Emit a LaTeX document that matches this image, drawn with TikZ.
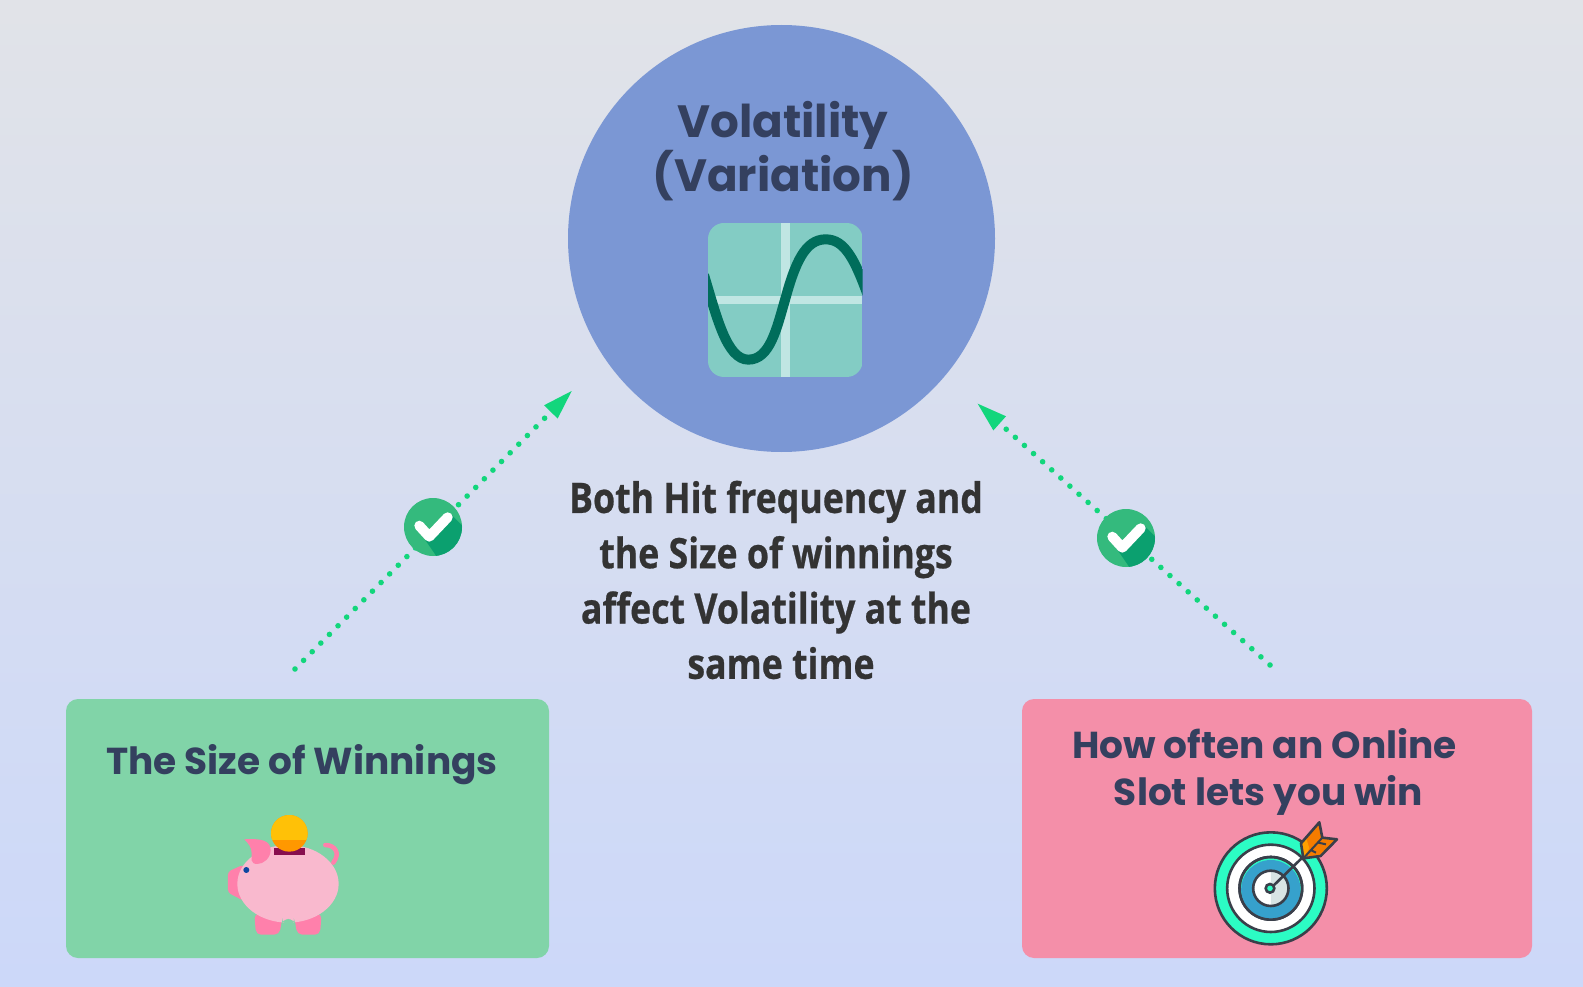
\documentclass[tikz,border=0pt]{standalone}
\usepackage{fontspec}
\usetikzlibrary{positioning,arrows.meta,calc}
\newfontfamily\headfont{Poppins}
\newfontfamily\bodyfont[FakeStretch=0.85,BoldFeatures={FakeBold=0.6}]{Open Sans}
\definecolor{bgtop}{HTML}{E1E3E8}
\definecolor{bgbottom}{HTML}{CCD8F9}
\definecolor{volblue}{HTML}{7B97D4}
\definecolor{headink}{HTML}{34405F}
\definecolor{bodyink}{HTML}{333333}
\definecolor{sizegreen}{HTML}{81D4A8}
\definecolor{oftenpink}{HTML}{F48FA9}
\definecolor{flowgreen}{HTML}{12D67C}
\definecolor{tickgreen}{HTML}{34BA7D}
\definecolor{tickdark}{HTML}{0BA06F}
\definecolor{chartbg}{HTML}{83CCC4}
\definecolor{chartbar}{HTML}{C0E6E3}
\definecolor{chartline}{HTML}{006D5B}
\definecolor{pigbody}{HTML}{F9B9CE}
\definecolor{pigdark}{HTML}{FF80AB}
\definecolor{pigeye}{HTML}{0D47A1}
\definecolor{pigslot}{HTML}{880E4F}
\definecolor{coinlight}{HTML}{FFC107}
\definecolor{coindark}{HTML}{FF9800}
\definecolor{ringteal}{HTML}{2CFCC4}
\definecolor{ringblue}{HTML}{36A1CC}
\definecolor{ringgrey}{HTML}{D8E4E4}
\definecolor{ringink}{HTML}{3A3F4A}
\definecolor{featherdark}{HTML}{F57C00}
\definecolor{featherlight}{HTML}{FFA000}
\tikzset{
  panel/.style ={draw=none, rounded corners=12pt, inner sep=0pt},
  head/.style  ={text=headink, align=center, font=\headfont\bfseries},
  body/.style  ={text=bodyink, align=center, font=\bodyfont\bfseries\fontsize{42}{55.3}\selectfont},
  fl/.style    ={flowgreen, line width=5.6pt, line cap=round, dash pattern=on 0pt off 12.2pt,
                 -{Triangle[length=29.5pt,width=19pt,line width=0pt]}},
  badge/.style ={circle, fill=tickgreen, minimum size=58pt, inner sep=0pt},
  ring/.style  ={draw=ringink, line width=2.6pt}
}
\newcommand{\tickmark}[1]{
  \begin{scope}
    \clip (#1) circle (29pt);
    \fill[tickdark] ($(#1)+(18.7,-12)$) -- ++(16,16) -- ++(0,30) -- ++(-28,0) -- ($(#1)+(-10,9.7)$) -- cycle;
  \end{scope}
  \draw[white, line width=10pt, line cap=round, line join=round]
    ($(#1)+(-13.7,-1.3)$) -- ($(#1)+(-3.7,9.7)$) -- ($(#1)+(14.7,-9.7)$);
}

\begin{document}
\begin{tikzpicture}[x=1pt,y=-1pt]
  \useasboundingbox (0,0) rectangle (1583,987);
  \shade[top color=bgtop, bottom color=bgbottom] (0,0) rectangle (1583,987);

  \node[circle, fill=volblue, minimum size=427pt, inner sep=0pt](vol) at (781.5,238.5){};
  \node[head, font=\headfont\bfseries\fontsize{45.2}{51.5}\selectfont](voltitle) at (783,151){Volatility\\(Variation)};

  % chart icon
  \begin{scope}[shift={(680,200)},x=.3333pt,y=-.3333pt]
    \clip[rounded corners=16pt] (84,69) rectangle (548,531);
    \fill[chartbg] (84,69) rectangle (548,531);
    \fill[chartbar] (303,69) rectangle (329,531);
    \fill[chartbar] (84,287) rectangle (548,313);
    \draw[chartline, line width=10pt] (72,225) .. controls (110,350) and (140,479) .. (205,479)
      .. controls (270,479) and (290,385) .. (315,300) .. controls (345,190) and (375,118) .. (437,118)
      .. controls (495,118) and (525,180) .. (565,290);
  \end{scope}

  \node[body](note) at (776,580){Both Hit frequency and\\the Size of winnings\\affect Volatility at the\\\hspace*{10pt}same time};

  \node[panel, fill=sizegreen, minimum width=483pt, minimum height=259pt](size) at (307.5,828.5){};
  \node[panel, fill=oftenpink, minimum width=510pt, minimum height=259pt](often) at (1277,828.5){};
  \node[head, font=\headfont\bfseries\fontsize{37.5}{47}\selectfont](sizetitle) at (302,765){The Size of Winnings};
  \node[head, font=\headfont\bfseries\fontsize{37.5}{47}\selectfont](oftentitle) at (1264.5,772){How often an Online\\\hspace*{8pt}Slot lets you win};

  % piggy bank
  \begin{scope}[shift={(200,790)},x=.3333pt,y=-.3333pt]
    \draw[pigdark, line width=4.5pt, line cap=round] (376,165) .. controls (405,165) and (422,190) .. (400,218);
    \fill[pigdark, rounded corners=3pt] (84,245) -- (130,224) -- (130,332) -- (84,308) -- cycle;
    \fill[pigdark, rounded corners=5pt] (163,370) -- (168,434) -- (238,434) -- (248,380) -- cycle;
    \fill[pigdark, rounded corners=5pt] (365,370) -- (360,434) -- (292,434) -- (282,380) -- cycle;
    \fill[pigbody] (264,281.5) ellipse [x radius=152, y radius=116.5];
    \fill[sizegreen, rounded corners=6pt] (245,402) -- (248,387) -- (282,387) -- (286,402) -- cycle;
    \fill[pigdark] (133,148) .. controls (180,145) and (212,150) .. (212,180) .. controls (212,205) and (190,222) .. (172,222)
      .. controls (150,222) and (155,205) .. (155,190) .. controls (155,172) and (145,160) .. (133,148) -- cycle;
    \fill[pigeye] (139,240) circle [radius=9];
    \fill[pigslot] (222,175) rectangle (315,194);
    \fill[coindark] (268,130) circle [radius=55];
    \begin{scope}
      \clip (213,75) rectangle (323,148);
      \fill[coinlight] (268,130) circle [radius=55];
    \end{scope}
  \end{scope}

  % target
  \begin{scope}[shift={(1190,800)},x=.3333pt,y=-.3333pt]
    \filldraw[ring, fill=ringteal] (242.5,265) circle [radius=168];
    \filldraw[ring, fill=white] (242.5,265) circle [radius=131];
    \filldraw[ring, fill=ringteal] (242.5,265) circle [radius=94];
    \fill[ringblue] (242.5,269) circle [radius=89];
    \draw[ring] (242.5,265) circle [radius=94];
    \fill[white] (242.5,265) circle [radius=53];
    \begin{scope}
      \clip (242.5,200) rectangle (310,330);
      \fill[ringgrey] (242.5,265) circle [radius=53];
    \end{scope}
    \draw[ring] (242.5,265) circle [radius=53];
    \draw[ring, line cap=round] (242,265) -- (340,170);
    \filldraw[ring, fill=ringteal] (240,265) circle [radius=13];
    \fill[featherdark] (333,130) -- (388,67) -- (397,113) -- (441,118) -- (392,168) -- (340,175) -- cycle;
    \fill[featherlight] (333,130) -- (348,112) -- (358,145) -- (340,175) -- cycle;
    \draw[ringink, line width=2.6pt, line join=round] (333,130) -- (388,67) -- (397,113) -- (441,118) -- (392,168) -- (340,175) -- cycle;
    \draw[ringink, line width=2pt] (340,175) -- (397,113) (362,150) -- (378,158) (385,128) -- (408,133);
  \end{scope}

  % flows
  \coordinate (sizefrom) at (295,669);
  \coordinate (sizeto) at (571.7,391);
  \coordinate (oftenfrom) at (1270,665);
  \coordinate (oftento) at (977.7,403.7);
  \draw[fl](sizefrom)--(sizeto);
  \draw[fl](oftenfrom)--(oftento);

  \node[badge](sizecheck) at (433,527){};
  \tickmark{sizecheck}
  \node[badge](oftencheck) at (1126,538){};
  \tickmark{oftencheck}
\end{tikzpicture}
\end{document}
